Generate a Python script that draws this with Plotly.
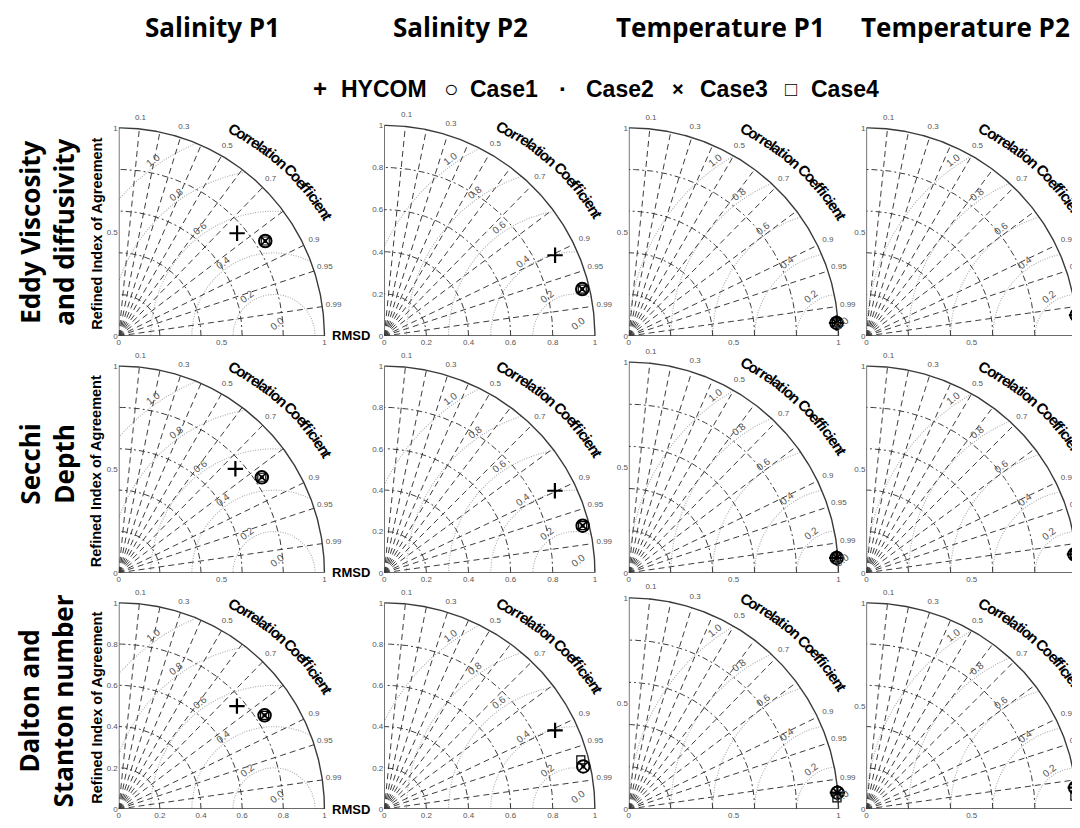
import numpy as np
import plotly.graph_objects as go

# ---------------- data ----------------
col_titles = ["Salinity P1", "Salinity P2", "Temperature P1", "Temperature P2"]
row_titles = ["Eddy Viscosity<br>and diffusivity", "Secchi<br>Depth", "Dalton and<br>Stanton number"]
series_names = ["HYCOM", "Case1", "Case2", "Case3", "Case4"]
legend_glyphs = ["+", "○", "·", "×", "□"]

# normalized std of the reference (observations) for each column
ref_std = [0.755, 0.905, 1.0, 1.0]

corr_grid = [0.1, 0.2, 0.3, 0.4, 0.5, 0.6, 0.7, 0.8, 0.9, 0.95, 0.99]
corr_labels = [0.1, 0.3, 0.5, 0.7, 0.9, 0.95, 0.99]
std_grid = [0.2, 0.4, 0.6, 0.8]
rmsd_grid = [0.2, 0.4, 0.6, 0.8, 1.0]
rmsd_labels = [0.0, 0.2, 0.4, 0.6, 0.8, 1.0]

axis_ticks = [
    [[0, 0.5, 1], [0, 0.2, 0.4, 0.6, 0.8, 1], [0, 0.5, 1], [0, 0.5, 1]],
    [[0, 0.5, 1], [0, 0.2, 0.4, 0.6, 0.8, 1], [0, 0.5, 1], [0, 0.5, 1]],
    [[0, 0.2, 0.4, 0.6, 0.8, 1], [0, 0.2, 0.4, 0.6, 0.8, 1], [0, 0.5, 1], [0, 0.5, 1]],
]

# normalized standard deviation and correlation, [row][column]
hycom_std = [[0.758, 0.897, 0.993, 1.003], [0.758, 0.902, 0.994, 0.992], [0.761, 0.896, 0.998, 0.997]]
hycom_corr = [[0.759, 0.904, 0.998, 0.995], [0.748, 0.898, 0.9975, 0.996], [0.755, 0.905, 0.997, 0.9946]]
case1_std = [[0.846, 0.966, 0.993, 1.003], [0.835, 0.969, 0.994, 0.992], [0.842, 0.967, 0.998, 0.997]]
case1_corr = [[0.842, 0.973, 0.998, 0.995], [0.833, 0.972, 0.9975, 0.996], [0.842, 0.977, 0.997, 0.9946]]
case2_std = [[0.846, 0.966, 0.993, 1.003], [0.835, 0.969, 0.994, 0.992], [0.842, 0.967, 0.998, 0.997]]
case2_corr = [[0.842, 0.973, 0.998, 0.995], [0.833, 0.972, 0.9975, 0.996], [0.842, 0.977, 0.997, 0.9946]]
case3_std = [[0.846, 0.966, 0.993, 1.003], [0.835, 0.969, 0.994, 0.992], [0.842, 0.967, 0.998, 0.997]]
case3_corr = [[0.842, 0.973, 0.998, 0.995], [0.833, 0.972, 0.9975, 0.996], [0.842, 0.977, 0.997, 0.9946]]
case4_std = [[0.846, 0.966, 0.993, 1.003], [0.835, 0.969, 0.994, 0.992], [0.842, 0.963, 0.994, 0.992]]
case4_corr = [[0.842, 0.973, 0.998, 0.995], [0.833, 0.972, 0.9975, 0.996], [0.842, 0.969, 0.9986, 0.998]]

series_std = [hycom_std, case1_std, case2_std, case3_std, case4_std]
series_corr = [hycom_corr, case1_corr, case2_corr, case3_corr, case4_corr]

# ---------------- page geometry ----------------
OFF = 8            # default body margin of the html page
FW, FH = 1072, 812  # figure size so that it fits the 1080x828 window


def px_x(p):
    return (p - OFF) / FW


def px_y(p):
    return 1 - (p - OFF) / FH


# screen pixel positions of value 0 and value 1 on each panel's axes
col_x0 = [117, 383, 628, 866]
col_x1 = [323, 594, 838, 1077]
row_y0 = [340.5, 580.5, 820.0]
row_y1 = [129.5, 371.0, 611.0]
y1_override = {(0, 1): 127.0, (1, 2): 367.0, (2, 2): 606.0}
EXT = 1.1

marker_styles = [
    dict(symbol="cross-thin-open", size=11, line=dict(width=2.2, color="black"), color="black"),
    dict(symbol="circle-open", size=12.5, line=dict(width=2, color="black"), color="black"),
    dict(symbol="circle", size=4, color="black", line=dict(width=0)),
    dict(symbol="x-thin-open", size=8, line=dict(width=1.7, color="black"), color="black"),
    dict(symbol="square-open", size=8, line=dict(width=1.2, color="black"), color="black"),
]

FONT = "Liberation Sans, Arial, sans-serif"
GRID = "#3c3c3c"


def fmt(v):
    if v == 0:
        return "0"
    if v == 1:
        return "1"
    return f"{v:g}"


def seg_join(segs):
    xs, ys = [], []
    for sx, sy in segs:
        xs += [float(v) for v in sx] + [None]
        ys += [float(v) for v in sy] + [None]
    return xs, ys


fig = go.Figure()
annotations = []
corr_title = "Correlation Coefficient"
char_w = {"C": 0.722, "o": 0.611, "r": 0.389, "e": 0.556, "l": 0.278, "a": 0.556, "t": 0.333,
          "i": 0.278, "n": 0.611, " ": 0.3, "f": 0.333, "c": 0.556}

for r in range(3):
    for c in range(4):
        k = r * 4 + c
        xn = "x" if k == 0 else f"x{k+1}"
        yn = "y" if k == 0 else f"y{k+1}"
        xa = "xaxis" if k == 0 else f"xaxis{k+1}"
        ya = "yaxis" if k == 0 else f"yaxis{k+1}"
        ticks = axis_ticks[r][c]
        y1 = y1_override.get((r, c), row_y1[r])
        sx = col_x1[c] - col_x0[c]
        sy = row_y0[r] - y1
        xr = min(EXT, (FW + OFF - col_x0[c]) / sx)
        dom_x = [px_x(col_x0[c]), min(1.0, px_x(col_x0[c] + sx * xr))]
        dom_y = [max(0.0, px_y(row_y0[r])), px_y(row_y0[r] - sy * EXT)]
        common = dict(showgrid=False, zeroline=False, showline=False, ticks="",
                      tickvals=ticks, ticktext=[fmt(t) for t in ticks],
                      tickfont=dict(size=8, color="#555", family=FONT), fixedrange=True)
        fig.layout[xa] = dict(domain=dom_x, range=[0, xr], anchor=yn, **common)
        fig.layout[ya] = dict(domain=dom_y, range=[0, EXT], anchor=xn, **common)
        ref = ref_std[c]

        # RMSD arcs (light grey dotted), centered on the reference point, clipped to the quadrant
        segs = []
        t = np.linspace(0, np.pi, 720)
        for R in rmsd_grid:
            x = ref + R * np.cos(t)
            y = R * np.sin(t)
            ok = (x >= 0) & (x ** 2 + y ** 2 <= 1.0)
            if ok.any():
                segs.append((x[ok].round(5), y[ok].round(5)))
        xs, ys = seg_join(segs)
        fig.add_trace(go.Scatter(x=xs, y=ys, mode="lines", xaxis=xn, yaxis=yn, hoverinfo="skip",
                                 line=dict(color="#ababab", width=1.1, dash="1px,1.5px"), showlegend=False))

        # std arcs (dash-dot)
        segs = []
        a = np.linspace(0, np.pi / 2, 200)
        for s in std_grid:
            segs.append((s * np.cos(a), s * np.sin(a)))
        xs, ys = seg_join(segs)
        fig.add_trace(go.Scatter(x=xs, y=ys, mode="lines", xaxis=xn, yaxis=yn, hoverinfo="skip",
                                 line=dict(color=GRID, width=1, dash="6px,3px,2px,3px"), showlegend=False))

        # correlation rays (dashed)
        segs = []
        for cc in corr_grid:
            th = np.arccos(cc)
            segs.append(([0, np.cos(th)], [0, np.sin(th)]))
        xs, ys = seg_join(segs)
        fig.add_trace(go.Scatter(x=xs, y=ys, mode="lines", xaxis=xn, yaxis=yn, hoverinfo="skip",
                                 line=dict(color=GRID, width=1, dash="6px,4px"), showlegend=False))

        # outer arc and the two axis lines
        ox = [0.0, 0.0] + [float(v) for v in np.sin(a)] + [0.0]
        oy = [0.0, 1.0] + [float(v) for v in np.cos(a)] + [0.0]
        fig.add_trace(go.Scatter(x=ox, y=oy, mode="lines", xaxis=xn, yaxis=yn,
                                 hoverinfo="skip", line=dict(color="#3a3a3a", width=1.4), showlegend=False))

        # correlation labels
        th = np.arccos(np.array(corr_labels))
        fig.add_trace(go.Scatter(x=1.055 * np.cos(th), y=1.055 * np.sin(th), mode="text",
                                 text=[f"{v:g}" for v in corr_labels], xaxis=xn, yaxis=yn,
                                 textfont=dict(size=8, color="#555", family=FONT),
                                 cliponaxis=False, hoverinfo="skip", showlegend=False))

        # RMSD labels
        ang = np.deg2rad(125)
        for v in rmsd_labels:
            if v == 0:
                lx, ly = ref + 0.015, 0.06
            else:
                d = v + 0.03
                lx, ly = ref + d * np.cos(ang), d * np.sin(ang)
            annotations.append(dict(x=float(lx), y=float(ly), xref=xn, yref=yn, text=f"{v:.1f}",
                                    showarrow=False, textangle=-38, xanchor="center", yanchor="middle",
                                    font=dict(size=10, color="#555", family=FONT)))

        # curved "Correlation Coefficient"
        widths = [char_w.get(ch, 0.556) for ch in corr_title]
        cum = np.cumsum(widths) - np.array(widths) / 2
        frac = (cum - cum[0]) / (cum[-1] - cum[0])
        angs = 60.5 - frac * 31
        radii = 1.14 + frac * 0.025
        for ch, ag, rr in zip(corr_title, angs, radii):
            if ch == " ":
                continue
            annotations.append(dict(x=float(rr * np.cos(np.deg2rad(ag))), y=float(rr * np.sin(np.deg2rad(ag))),
                                    xref=xn, yref=yn, text=f"<b>{ch}</b>", showarrow=False,
                                    textangle=float(90 - ag), xanchor="center", yanchor="middle",
                                    font=dict(size=15, color="black", family=FONT)))

        # data markers
        for si in [4, 0, 1, 3, 2]:
            s = series_std[si][r][c]
            cr = series_corr[si][r][c]
            thv = np.arccos(cr)
            fig.add_trace(go.Scatter(x=[s * np.cos(thv)], y=[s * np.sin(thv)], mode="markers",
                                     xaxis=xn, yaxis=yn, marker=marker_styles[si], cliponaxis=False,
                                     name=series_names[si], showlegend=False))

# axis titles of the first column
for r in range(3):
    yc = (row_y0[r] + row_y1[r]) / 2 + 2
    annotations.append(dict(x=px_x(95), y=px_y(yc), xref="paper", yref="paper",
                            text="<b>Refined Index of Agreement</b>", textangle=-90, showarrow=False,
                            xanchor="center", yanchor="middle",
                            font=dict(size=14.5, color="black", family=FONT)))
    annotations.append(dict(x=px_x(350), y=px_y(row_y0[r]), xref="paper", yref="paper",
                            text="<b>RMSD</b>", showarrow=False, xanchor="center", yanchor="middle",
                            font=dict(size=13, color="black", family=FONT)))

# column titles
col_cx = [210.5, 459.5, 719.5, 965]
for c in range(4):
    annotations.append(dict(x=px_x(col_cx[c]), y=px_y(27), xref="paper", yref="paper",
                            text=f"<b>{col_titles[c]}</b>", showarrow=False,
                            xanchor="center", yanchor="middle",
                            font=dict(size=26, color="black", family="Open Sans")))

# row titles
row_cy = [235, 470, 710]
for r in range(3):
    annotations.append(dict(x=px_x(45), y=px_y(row_cy[r]), xref="paper", yref="paper",
                            text=f"<b>{row_titles[r]}</b>", textangle=-90, showarrow=False,
                            xanchor="center", yanchor="middle",
                            font=dict(size=26, color="black", family="Open Sans")))

# legend line (glyph + name)
glyph_cx = [319, 450, 562, 677, 790]
name_cx = [382.5, 503, 619.5, 733, 845]
glyph_size = [24, 24, 24, 20, 20]
for g, n, gx, nx, gs in zip(legend_glyphs, series_names, glyph_cx, name_cx, glyph_size):
    annotations.append(dict(x=px_x(gx), y=px_y(90), xref="paper", yref="paper", text=f"<b>{g}</b>",
                            showarrow=False, xanchor="center", yanchor="middle",
                            font=dict(size=gs, color="black", family=FONT)))
    annotations.append(dict(x=px_x(nx), y=px_y(90), xref="paper", yref="paper", text=f"<b>{n}</b>",
                            showarrow=False, xanchor="center", yanchor="middle",
                            font=dict(size=23, color="black", family=FONT)))

fig.update_layout(width=FW, height=FH, margin=dict(l=0, r=0, t=0, b=0),
                  paper_bgcolor="white", plot_bgcolor="rgba(0,0,0,0)", showlegend=False,
                  annotations=annotations)
fig.write_html("out.html")
